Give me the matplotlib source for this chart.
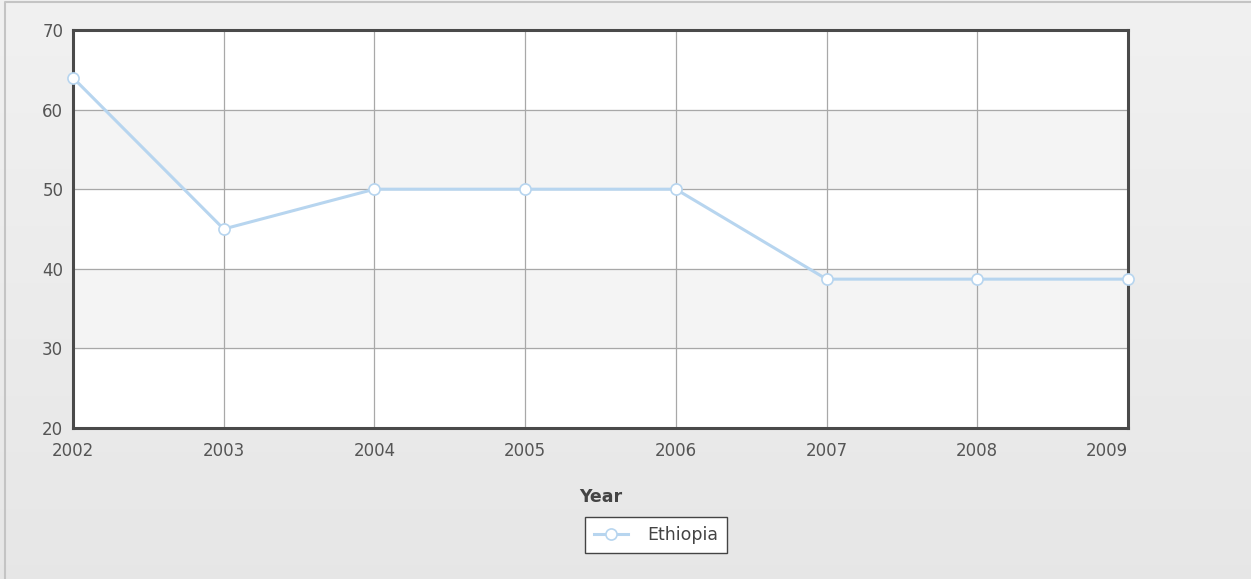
import matplotlib
matplotlib.use('Agg')
import matplotlib.pyplot as plt
import numpy as np

years = [2002, 2003, 2004, 2005, 2006, 2007, 2008, 2009]
ethiopia = [64, 45, 50, 50, 50, 38.7, 38.7, 38.7]
y_ticks = [20, 30, 40, 50, 60, 70]

W, H = 1251, 579
fig = plt.figure(figsize=(W / 100, H / 100), dpi=100)

# background gradient
bg = fig.add_axes([0, 0, 1, 1], zorder=-10)
grad = np.linspace(0.945, 0.905, 256).reshape(-1, 1)
bg.imshow(np.dstack([grad, grad, grad]), aspect='auto', extent=[0, 1, 0, 1])
bg.plot([0.004, 0.004, 1], [0, 0.996, 0.996], color='#c4c4c4', lw=1.5)
bg.set_xlim(0, 1)
bg.set_ylim(0, 1)
bg.axis('off')

ax = fig.add_axes([73 / W, 1 - 428 / H, (1128 - 73) / W, (428 - 30) / H])
ax.set_facecolor('white')
for lo, hi in [(50, 60), (30, 40)]:
    ax.axhspan(lo, hi, color='#f4f4f4', zorder=0)

ax.plot(years, ethiopia, '-o', color='#b7d5ef', lw=2.2, markersize=8,
        markerfacecolor='white', markeredgecolor='#b7d5ef',
        markeredgewidth=1.2, clip_on=False, zorder=5, label='Ethiopia')

ax.set_xlim(years[0], years[-1])
ax.set_ylim(20, 70)
ax.set_xticks(years)
ax.set_yticks(y_ticks)
ax.grid(True, color='#a8a8a8', lw=0.9, zorder=1)
ax.set_axisbelow(True)
for s in ax.spines.values():
    s.set_color('#4a4a4a')
    s.set_linewidth(2.2)
ax.tick_params(length=0, colors='#555555', labelsize=12)
ax.tick_params(axis='x', pad=10)
ax.tick_params(axis='y', pad=7)
xl = ax.get_xticklabels()
xl[-1].set_horizontalalignment('right')
yl = ax.get_yticklabels()
yl[0].set_verticalalignment('center_baseline')

ax.set_xlabel('Year', fontsize=12.5, fontweight='bold', color='#444444',
              labelpad=20)

leg = fig.legend(loc='center', bbox_to_anchor=(656 / W, 1 - 535 / H),
                 frameon=True, fancybox=False, fontsize=12.5, framealpha=1,
                 handlelength=2.0, borderpad=0.5, handletextpad=1.1,
                 borderaxespad=0)
leg.get_frame().set_edgecolor('#444444')
leg.get_frame().set_facecolor('white')
leg.get_frame().set_linewidth(1.0)
for t in leg.get_texts():
    t.set_color('#444444')

fig.savefig('out.png', dpi=100)
